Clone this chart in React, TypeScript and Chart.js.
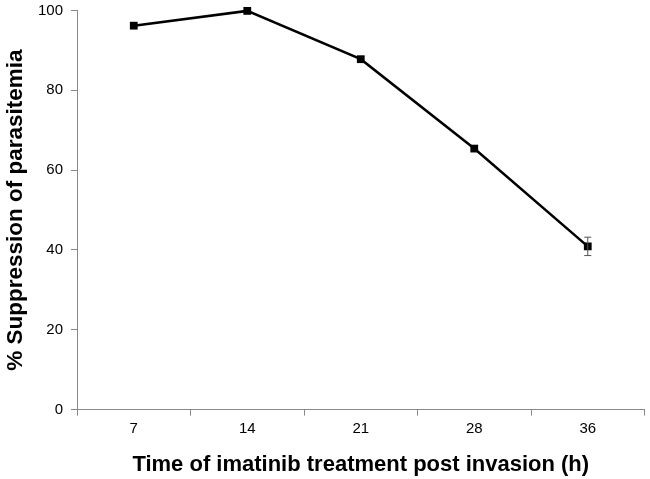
import React, { useEffect, useRef } from "react";
import { Chart, registerables } from "chart.js";

Chart.register(...registerables);

const categories = ["7", "14", "21", "28", "36"];
const suppression = [96.2, 99.9, 87.8, 65.4, 40.9];
const errors = [0, 0, 0, 0, 2.3];
const yTicks = [0, 20, 40, 60, 80, 100];

const errorBarPlugin = {
  id: "errorBars",
  afterDatasetsDraw(chart: any) {
    const { ctx, scales } = chart;
    const x = scales.x;
    const y = scales.y;
    ctx.save();
    ctx.strokeStyle = "#555";
    ctx.lineWidth = 1;
    suppression.forEach((v, i) => {
      const e = errors[i];
      if (!e) return;
      const px = x.getPixelForValue(i);
      const top = y.getPixelForValue(v + e);
      const bot = y.getPixelForValue(v - e);
      ctx.beginPath();
      ctx.moveTo(px, top);
      ctx.lineTo(px, bot);
      ctx.moveTo(px - 3.5, top);
      ctx.lineTo(px + 3.5, top);
      ctx.moveTo(px - 3.5, bot);
      ctx.lineTo(px + 3.5, bot);
      ctx.stroke();
    });
    ctx.restore();
  },
};

export default function App() {
  const ref = useRef<HTMLCanvasElement>(null);
  useEffect(() => {
    if (!ref.current) return;
    const chart = new Chart(ref.current, {
      type: "line",
      data: {
        labels: categories,
        datasets: [
          {
            data: suppression,
            borderColor: "#000",
            backgroundColor: "#000",
            borderWidth: 2.5,
            pointStyle: "rect",
            pointRadius: 5.5,
            pointBorderWidth: 0,
            tension: 0,
            clip: false,
          },
        ],
      },
      options: {
        animation: false,
        responsive: false,
        layout: { padding: { top: 10.5, right: 5, left: 0, bottom: 1 } },
        plugins: { legend: { display: false }, tooltip: { enabled: false } },
        scales: {
          x: {
            offset: true,
            grid: {
              offset: true,
              drawOnChartArea: false,
              drawTicks: true,
              tickLength: 6,
              color: "#888",
            },
            border: { color: "#888", width: 1 },
            ticks: {
              color: "#000",
              font: { family: "Liberation Sans", size: 15 },
              padding: 4,
            },
            title: {
              display: true,
              text: "Time of imatinib treatment post invasion (h)",
              color: "#000",
              font: { family: "Liberation Sans", size: 22, weight: "bold" },
              padding: { top: 10, bottom: 0 },
            },
          },
          y: {
            min: 0,
            max: 100,
            afterBuildTicks: (axis: any) => {
              axis.ticks = yTicks.map((v) => ({ value: v }));
            },
            afterFit: (axis: any) => {
              axis.paddingTop = 0;
              axis.paddingBottom = 0;
            },
            grid: {
              drawOnChartArea: false,
              drawTicks: true,
              tickLength: 6,
              color: "#888",
            },
            border: { color: "#888", width: 1 },
            ticks: {
              color: "#000",
              font: { family: "Liberation Sans", size: 15 },
              padding: 8,
            },
            title: {
              display: true,
              text: "% Suppression of parasitemia",
              color: "#000",
              font: { family: "Liberation Sans", size: 22.5, weight: "bold" },
              padding: { top: 2, bottom: 1 },
            },
          },
        },
      },
      plugins: [errorBarPlugin],
    });
    return () => chart.destroy();
  }, []);
  return (
    <div style={{ position: "fixed", left: 0, top: 0, width: 650, height: 479, background: "#fff" }}>
      <canvas ref={ref} width={650} height={479} />
    </div>
  );
}
